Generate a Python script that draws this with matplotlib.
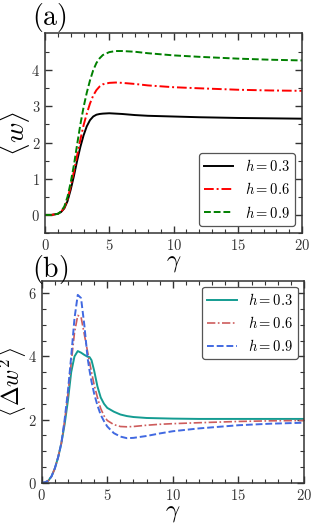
import matplotlib
matplotlib.use("Agg")
import matplotlib.pyplot as plt
from matplotlib.ticker import MultipleLocator, FixedLocator, FuncFormatter

plt.rcParams['mathtext.fontset'] = 'cm'
plt.rcParams['font.family'] = 'serif'
plt.rcParams['font.serif'] = ['DejaVu Serif']

# ---------------- data: panel (a) ----------------
gamma_a = [0, 0.5, 1.0, 1.25, 1.5, 1.75, 2.0, 2.25, 2.5, 2.75, 3.0, 3.25, 3.5,
           3.75, 4.0, 4.25, 4.5, 5.0, 5.5, 6.0, 7.0, 8.0, 10, 12, 15, 17.5, 20]
w_h03 = [0, 0.0, 0.03, 0.08, 0.18, 0.38, 0.7, 1.08, 1.5, 1.88, 2.2, 2.45, 2.62,
         2.72, 2.77, 2.79, 2.8, 2.81, 2.8, 2.79, 2.76, 2.74, 2.72, 2.7, 2.68, 2.67, 2.66]
w_h06 = [0, 0.0, 0.03, 0.09, 0.2, 0.42, 0.8, 1.2, 1.65, 2.08, 2.48, 2.8, 3.08,
         3.3, 3.45, 3.55, 3.61, 3.65, 3.66, 3.65, 3.62, 3.58, 3.53, 3.5, 3.46, 3.44, 3.43]
w_h09 = [0, 0.0, 0.03, 0.1, 0.23, 0.5, 0.9, 1.38, 1.95, 2.5, 2.98, 3.38, 3.72,
         4.0, 4.2, 4.33, 4.42, 4.5, 4.53, 4.53, 4.51, 4.47, 4.41, 4.37, 4.32, 4.29, 4.27]

# ---------------- data: panel (b) ----------------
gamma_b = [0, 0.25, 0.5, 0.75, 1.0, 1.25, 1.5, 1.75, 2.0, 2.25, 2.5, 2.75, 3.0,
           3.25, 3.5, 3.65, 3.8, 4.0, 4.25, 4.5, 4.75, 5.0, 5.5, 6.0, 6.5, 7.0, 8.0,
           9.0, 10, 12, 15, 17.5, 20]
dw_h03 = [0, 0.01, 0.06, 0.2, 0.45, 0.8, 1.25, 1.85, 2.6, 3.5, 4.0, 4.17, 4.12,
          4.05, 3.99, 3.98, 3.88, 3.55, 3.05, 2.7, 2.5, 2.37, 2.25, 2.16, 2.11, 2.08, 2.05,
          2.04, 2.03, 2.02, 2.02, 2.02, 2.02]
dw_h06 = [0, 0.01, 0.06, 0.2, 0.45, 0.8, 1.25, 1.95, 2.8, 3.8, 4.75, 5.3, 5.25,
          4.7, 4.15, 3.82, 3.5, 3.1, 2.7, 2.35, 2.12, 1.97, 1.84, 1.78, 1.77, 1.78, 1.82,
          1.85, 1.87, 1.9, 1.94, 1.96, 1.97]
dw_h09 = [0, 0.01, 0.06, 0.2, 0.45, 0.8, 1.25, 2.0, 2.9, 4.0, 5.2, 5.95, 5.85,
          5.0, 3.95, 3.55, 3.2, 2.82, 2.45, 2.15, 1.95, 1.78, 1.57, 1.46, 1.41, 1.42, 1.48,
          1.56, 1.63, 1.72, 1.82, 1.87, 1.9]

labels = [r'$h=0.3$', r'$h=0.6$', r'$h=0.9$']

fig = plt.figure(figsize=(3.17, 5.23), dpi=100)
ax1 = fig.add_axes([0.142, 0.5545, 0.811, 0.3825])
ax2 = fig.add_axes([0.1315, 0.0771, 0.8275, 0.3862])

fmt = FuncFormatter(lambda v, p: r'$%g$' % v)

def style(ax):
    ax.tick_params(which='both', direction='in', top=True, right=True,
                   labelsize=10.5, labelcolor='#333333', color='#333333')
    ax.tick_params(which='major', length=5, width=1.0)
    ax.tick_params(which='minor', length=3, width=0.8)
    for s in ax.spines.values():
        s.set_linewidth(1.1)
        s.set_color('#333333')
    ax.xaxis.set_major_locator(MultipleLocator(5))
    ax.xaxis.set_minor_locator(MultipleLocator(1))
    ax.xaxis.set_major_formatter(fmt)
    ax.yaxis.set_major_formatter(fmt)

# panel (a)
ax1.plot(gamma_a, w_h03, color='black', lw=1.4, ls='-', label=labels[0])
ax1.plot(gamma_a, w_h06, color='red', lw=1.4, ls=(0, (5, 1.5, 1, 1.5)), label=labels[1])
ax1.plot(gamma_a, w_h09, color='green', lw=1.4, ls=(0, (3.5, 1.5)), label=labels[2])
ax1.set_xlim(0, 20)
ax1.set_ylim(-0.5, 5.03)
style(ax1)
ax1.yaxis.set_major_locator(FixedLocator([0, 1, 2, 3, 4]))
ax1.yaxis.set_minor_locator(FixedLocator([-0.5, 0.5, 1.5, 2.5, 3.5, 4.5]))
ax1.set_xlabel(r'$\gamma$', fontsize=18, labelpad=-1)
ax1.set_ylabel(r'$\langle w\rangle$', fontsize=20)
ax1.yaxis.set_label_coords(-0.05, 0.5)
leg1 = ax1.legend(loc='lower right', fontsize=10.5, fancybox=True,
                  edgecolor='#555555', framealpha=1.0, handlelength=2.0,
                  borderaxespad=0.5, borderpad=0.35)
leg1.get_frame().set_linewidth(0.9)

# panel (b)
ax2.plot(gamma_b, dw_h03, color='#149c92', lw=1.4, ls='-', label=labels[0])
ax2.plot(gamma_b, dw_h06, color='#cd5c5c', lw=1.2, ls=(0, (5, 1.5, 1, 1.5)), label=labels[1])
ax2.plot(gamma_b, dw_h09, color='#4169e1', lw=1.4, ls=(0, (3.5, 1.5)), label=labels[2])
ax2.set_xlim(0, 20)
ax2.set_ylim(0, 6.4)
style(ax2)
ax2.yaxis.set_major_locator(FixedLocator([0, 2, 4, 6]))
ax2.yaxis.set_minor_locator(MultipleLocator(0.5))
ax2.set_xlabel(r'$\gamma$', fontsize=18, labelpad=-1)
ax2.set_ylabel(r'$\langle\Delta w^2\rangle$', fontsize=17)
ax2.yaxis.set_label_coords(-0.052, 0.5)
leg2 = ax2.legend(loc='upper right', fontsize=10.5, fancybox=True,
                  edgecolor='#555555', framealpha=1.0, handlelength=2.0,
                  borderaxespad=0.4, borderpad=0.35)
leg2.get_frame().set_linewidth(0.9)

fig.text(0.1, 0.999, r'$\mathrm{(a)}$', fontsize=20, ha='left', va='top')
fig.text(0.1, 0.517, r'$\mathrm{(b)}$', fontsize=20, ha='left', va='top')

fig.savefig('out.png', dpi=100)
